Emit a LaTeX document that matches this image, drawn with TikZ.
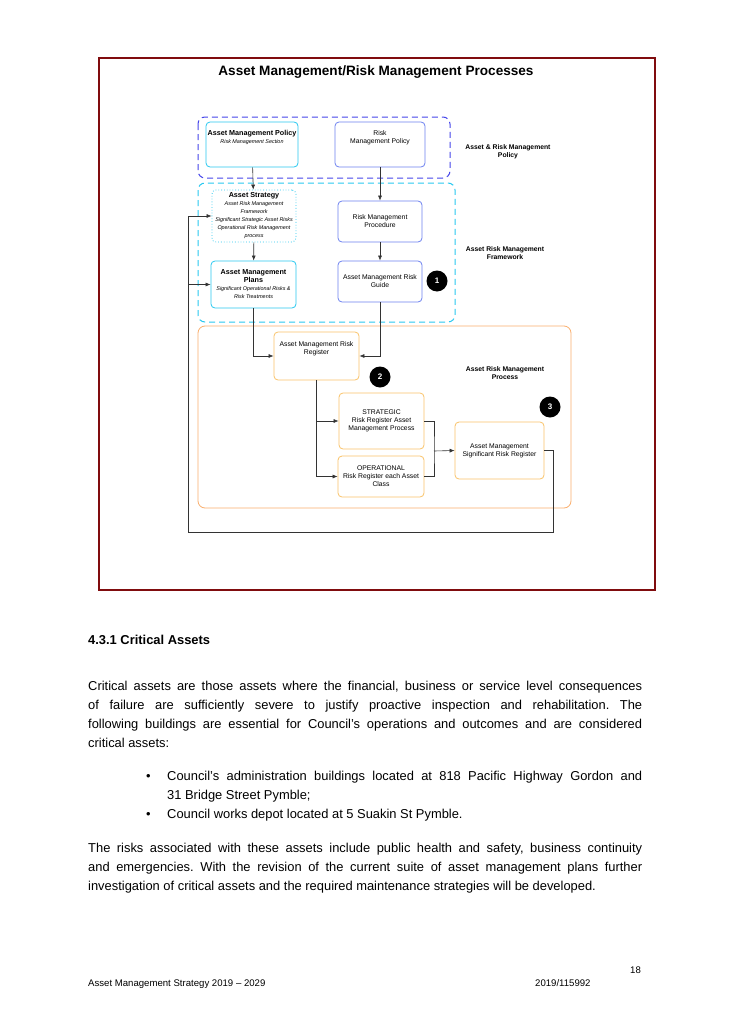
\documentclass[tikz,border=0pt]{standalone}
\usepackage{fontspec}
\setmainfont{Liberation Sans}
\usetikzlibrary{arrows.meta}
\definecolor{frame}{RGB}{128,12,14}
\definecolor{polblue}{RGB}{70,70,235}
\definecolor{frmcyan}{RGB}{40,200,240}
\definecolor{prcorange}{RGB}{250,175,110}
\definecolor{boxorange}{RGB}{250,195,105}
\definecolor{boxblue}{RGB}{110,130,240}
\tikzset{
  box/.style={draw, line width=.8pt, rounded corners=4pt, align=center, inner sep=1pt, font=\fontsize{6.8}{8}\selectfont},
  flow/.style={draw=black!80, line width=.6pt, -{Latex[length=5pt,width=4pt]}},
  num/.style={circle, fill=black, text=white, minimum size=21pt, inner sep=0pt, font=\bfseries\fontsize{8}{9}\selectfont},
  side/.style={align=center, font=\bfseries\fontsize{6.8}{8}\selectfont},
  body/.style={anchor=base west, inner sep=0pt, font=\fontsize{12.9}{19}\selectfont}
}
\begin{document}
\frenchspacing
\begin{tikzpicture}[x=1pt, y=-1pt]
        \useasboundingbox[fill=white] (0,0) rectangle (730,1033);

        % frame and title
        \draw[frame, line width=2.6pt] (99,58) rectangle (655,590);
        \node[font=\bfseries\fontsize{13.6}{15}\selectfont] (title) at (376,72) {Asset Management/Risk Management Processes};

        % groups
        \draw[polblue, dashed, line width=1pt, dash pattern=on 6pt off 4pt, rounded corners=7pt] (198,117) rectangle (450,178);
        \draw[frmcyan, dashed, line width=1pt, dash pattern=on 6pt off 4pt, rounded corners=7pt] (198,183) rectangle (455,322);
        \draw[prcorange, line width=.8pt, rounded corners=7pt] (198,326) rectangle (571,508);
        \node[side] (grpPol) at (508,152) {Asset \& Risk Management\\Policy};
        \node[side] (grpFrm) at (505,253) {Asset Risk Management\\Framework};
        \node[side] (grpPrc) at (505,373) {Asset Risk Management\\Process};

        % policy and framework boxes
        \node[box, draw=frmcyan, minimum width=92pt, minimum height=45pt] (amPolicy) at (252,144.5)
            {{\bfseries\fontsize{7.2}{8}\selectfont Asset Management Policy}\\\itshape\fontsize{5.4}{6.3}\selectfont Risk Management Section\\[8pt]};
        \node[box, draw=boxblue, minimum width=90pt, minimum height=45pt] (rmPolicy) at (380,144.5) {Risk\\Management Policy\\[6pt]};
        \node[box, draw=frmcyan, dotted, minimum width=84pt, minimum height=52pt] (amStrategy) at (254,216)
            {{\bfseries\fontsize{7.2}{8}\selectfont Asset Strategy}\\\itshape\fontsize{5.4}{6.3}\selectfont Asset Risk Management\\\itshape\fontsize{5.4}{6.3}\selectfont Framework\\\itshape\fontsize{5.4}{6.3}\selectfont Significant Strategic Asset Risks\\\itshape\fontsize{5.4}{6.3}\selectfont Operational Risk Management\\\itshape\fontsize{5.4}{6.3}\selectfont process};
        \node[box, draw=boxblue, minimum width=84pt, minimum height=41pt] (rmProc) at (380,221.5) {Risk Management\\Procedure};
        \node[box, draw=frmcyan, minimum width=85pt, minimum height=47pt] (amPlans) at (253.5,284.5)
            {{\bfseries\fontsize{7.2}{8}\selectfont Asset Management}\\{\bfseries\fontsize{7.2}{8}\selectfont Plans}\\\itshape\fontsize{5.4}{6.3}\selectfont Significant Operational Risks \&\\\itshape\fontsize{5.4}{6.3}\selectfont Risk Treatments};
        \node[box, draw=boxblue, minimum width=84pt, minimum height=41pt] (amGuide) at (380,281.5) {Asset Management Risk\\Guide};

        % process boxes
        \node[box, draw=boxorange, minimum width=85pt, minimum height=48pt] (amReg) at (316.5,356) {Asset Management Risk\\Register\\[8pt]};
        \node[box, draw=boxorange, minimum width=85pt, minimum height=56pt] (strat) at (381.5,421) {STRATEGIC\\Risk Register Asset\\Management Process};
        \node[box, draw=boxorange, minimum width=86pt, minimum height=41pt] (oper) at (381,476.5) {OPERATIONAL\\Risk Register each Asset\\Class};
        \node[box, draw=boxorange, minimum width=89pt, minimum height=57pt] (sigReg) at (499.5,450.5) {Asset Management\\Significant Risk Register};

        % numbers
        \node[num] (n1) at (437,281) {1};
        \node[num] (n2) at (380,377) {2};
        \node[num] (n3) at (550,407) {3};

        % connectors
        \coordinate (jn) at (434,451);
        \coordinate (fb) at (188,532);
        \draw[flow] (amPolicy) -- (amStrategy);
        \draw[flow] (amStrategy) -- (amPlans);
        \draw[flow] (rmPolicy) -- (rmProc);
        \draw[flow] (rmProc) -- (amGuide);
        \draw[flow] (amPlans.south) |- (amReg.west);
        \draw[flow] (amGuide.south) |- (amReg.east);
        \draw[flow] (amReg.south) |- (strat.west);
        \draw[flow] (amReg.south) |- (oper.west);
        \draw[draw=black!80, line width=.6pt] (strat.east) -| (jn) |- (oper.east);
        \draw[flow] (jn) -- (sigReg.west);
        \draw[draw=black!80, line width=.6pt] (sigReg.east) -| ++(9,0) |- (fb);
        \draw[flow] (fb) |- (amStrategy.west);
        \draw[flow] (fb) |- (amPlans.west);

        % text of the page
        \node[body, font=\bfseries\fontsize{12.9}{14}\selectfont] (head) at (88,644) {4.3.1 Critical Assets};
        \node[body] (p1) at (88,690) {\makebox[554pt][s]{Critical assets are those assets where the financial, business or service level consequences}};
        \node[body] (p2) at (88,709) {\makebox[554pt][s]{of failure are sufficiently severe to justify proactive inspection and rehabilitation. The}};
        \node[body] (p3) at (88,728) {\makebox[554pt][s]{following buildings are essential for Council’s operations and outcomes and are considered}};
        \node[body] (p4) at (88,747) {critical assets:};
        \foreach \y in {780,818} \node[body] at (146,\y) {•};
        \node[body] (b1) at (167,780) {\makebox[475pt][s]{Council’s administration buildings located at 818 Pacific Highway Gordon and}};
        \node[body] (b2) at (167,799) {31 Bridge Street Pymble;};
        \node[body] (b3) at (167,818) {Council works depot located at 5 Suakin St Pymble.};
        \node[body] (q1) at (88,852) {\makebox[554pt][s]{The risks associated with these assets include public health and safety, business continuity}};
        \node[body] (q2) at (88,871) {\makebox[554pt][s]{and emergencies. With the revision of the current suite of asset management plans further}};
        \node[body] (q3) at (88,890) {investigation of critical assets and the required maintenance strategies will be developed.};

        % footer
        \node[body, font=\fontsize{9.6}{11}\selectfont] (page) at (630,973) {18};
        \node[body, font=\fontsize{9.6}{11}\selectfont] (foot) at (88,986) {Asset Management Strategy 2019 – 2029};
        \node[body, font=\fontsize{9.6}{11}\selectfont] (docno) at (535,986) {2019/115992};
\end{tikzpicture}
\end{document}
